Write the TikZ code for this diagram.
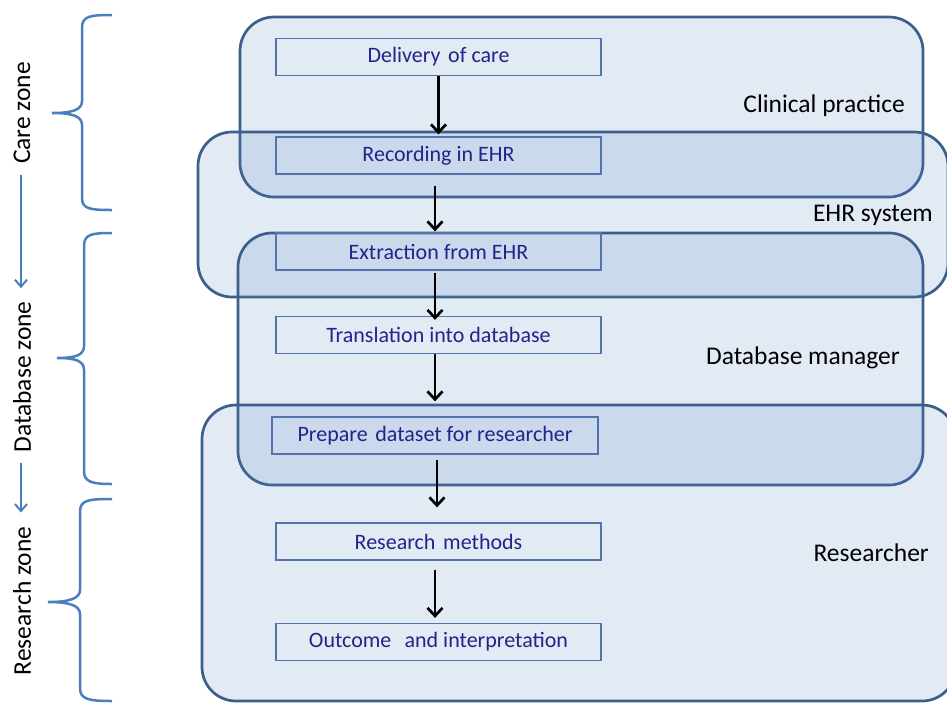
\documentclass[tikz,border=0pt]{standalone}
\usepackage{fontspec}
\setmainfont{Carlito}
\usetikzlibrary{arrows.meta}

\definecolor{zonefill}{RGB}{79,129,189}
\definecolor{zoneline}{RGB}{60,94,140}
\definecolor{stepline}{RGB}{84,114,172}
\definecolor{steptext}{RGB}{34,36,138}
\definecolor{bracecol}{RGB}{74,126,190}

\tikzset{
  zone/.style={fill=zonefill, fill opacity=0.16, draw=zoneline, draw opacity=1,
               line width=2.7pt, rounded corners=34pt},
  stepbox/.style={draw=stepline, line width=1.3pt, minimum width=325pt,
                  minimum height=37pt, inner sep=0pt, text=steptext,
                  font=\fontsize{22}{24}\selectfont},
  zonelabel/.style={anchor=east, inner sep=0pt, text=black,
                    font=\fontsize{25.5}{28}\selectfont},
  sidelabel/.style={rotate=90, inner sep=0pt, text=black,
                    font=\fontsize{25.5}{28}\selectfont},
  flow/.style={draw=black, line width=2.7pt,
               -{Straight Barb[length=8pt,width=15pt]}},
  sideflow/.style={draw=bracecol, line width=2pt,
                   -{Straight Barb[length=7pt,width=12pt]}},
  brace/.style={draw=bracecol, line width=2.5pt},
}

\begin{document}
\begin{tikzpicture}[x=1pt,y=-1pt]
\useasboundingbox (0,0) rectangle (947,702);
\clip (0,0) rectangle (947,702);
\fill[white] (0,0) rectangle (947,702);

% responsibility areas
\draw[zone] (240,17) rectangle (923,197);
\draw[zone] (198,132) rectangle (948,297);
\draw[zone] (238,233) rectangle (923,485);
\draw[zone] (202,405) rectangle (956,701);

\node[zonelabel] (lclin) at (905,106) {Clinical practice};
\node[zonelabel] (lehr)  at (933,215) {EHR system};
\node[zonelabel] (ldbm)  at (900,358) {Database manager};
\node[zonelabel] (lres)  at (929,553) {Researcher};

% process steps
\node[stepbox] (del)  at (438.5,57)    {Delivery\hspace{0.35em}of care};
\node[stepbox] (rec)  at (438.5,155.5) {Recording in EHR};
\node[stepbox] (ext)  at (438.5,251.5) {Extraction from EHR};
\node[stepbox] (tr)   at (438.5,335)   {Translation into database};
\node[stepbox, minimum width=326pt] (prep) at (435,435.5) {Prepare\hspace{0.35em}dataset for researcher};
\node[stepbox] (rm)   at (438.5,541.5) {Research\hspace{0.35em}methods};
\node[stepbox] (out)  at (438.5,642)   {Outcome\hspace{0.6em}and interpretation};

\draw[flow, shorten >=2pt] (del.south) -- (rec.north);
\draw[flow, shorten <=11pt, shorten >=1pt] ([xshift=-3.5pt]rec.south) -- ([xshift=-3.5pt]ext.north);
\draw[flow, shorten <=2pt, shorten >=-4pt] ([xshift=-3.5pt]ext.south) -- ([xshift=-3.5pt]tr.north);
\draw[flow, shorten >=15pt] ([xshift=-3.5pt]tr.south) -- ([xshift=-3.5pt]tr.south |- prep.north);
\draw[flow, shorten <=5pt, shorten >=15pt] ([xshift=2pt]prep.south) -- ([xshift=2pt]prep.south |- rm.north);
\draw[flow, shorten <=9pt, shorten >=5pt] ([xshift=-3.5pt]rm.south) -- ([xshift=-3.5pt]out.north);

% zones along the left
\node[sidelabel] (zcare) at (22,113) {Care zone};
\node[sidelabel] (zdb)   at (22,377) {Database zone};
\node[sidelabel] (zres)  at (22,601) {Research zone};

\draw[sideflow, shorten <=11pt, shorten >=13pt] ([xshift=-1pt]zcare.west) -- ([xshift=-1pt]zdb.east);
\draw[sideflow, shorten <=10pt, shorten >=14pt] ([xshift=-1pt]zdb.west) -- ([xshift=-1pt]zres.east);

% braces
\draw[brace] (112,15) .. controls (90,15) and (82,16) .. (82,28) -- (82,101)
  .. controls (82,110) and (72,113) .. (52,113)
  .. controls (72,113) and (82,116) .. (82,125) -- (82,198)
  .. controls (82,209) and (90,210) .. (112,210);
\draw[brace] (112,233) .. controls (92,233) and (84,234) .. (84,246) -- (84,346)
  .. controls (84,355) and (76,358) .. (57,358)
  .. controls (76,358) and (84,361) .. (84,370) -- (84,471)
  .. controls (84,482) and (92,484) .. (112,484);
\draw[brace] (112,499) .. controls (88,499) and (80,500) .. (80,512) -- (80,590)
  .. controls (80,599) and (68,602) .. (48,602)
  .. controls (68,602) and (80,605) .. (80,614) -- (80,688)
  .. controls (80,699) and (88,701) .. (112,701);
\end{tikzpicture}
\end{document}
